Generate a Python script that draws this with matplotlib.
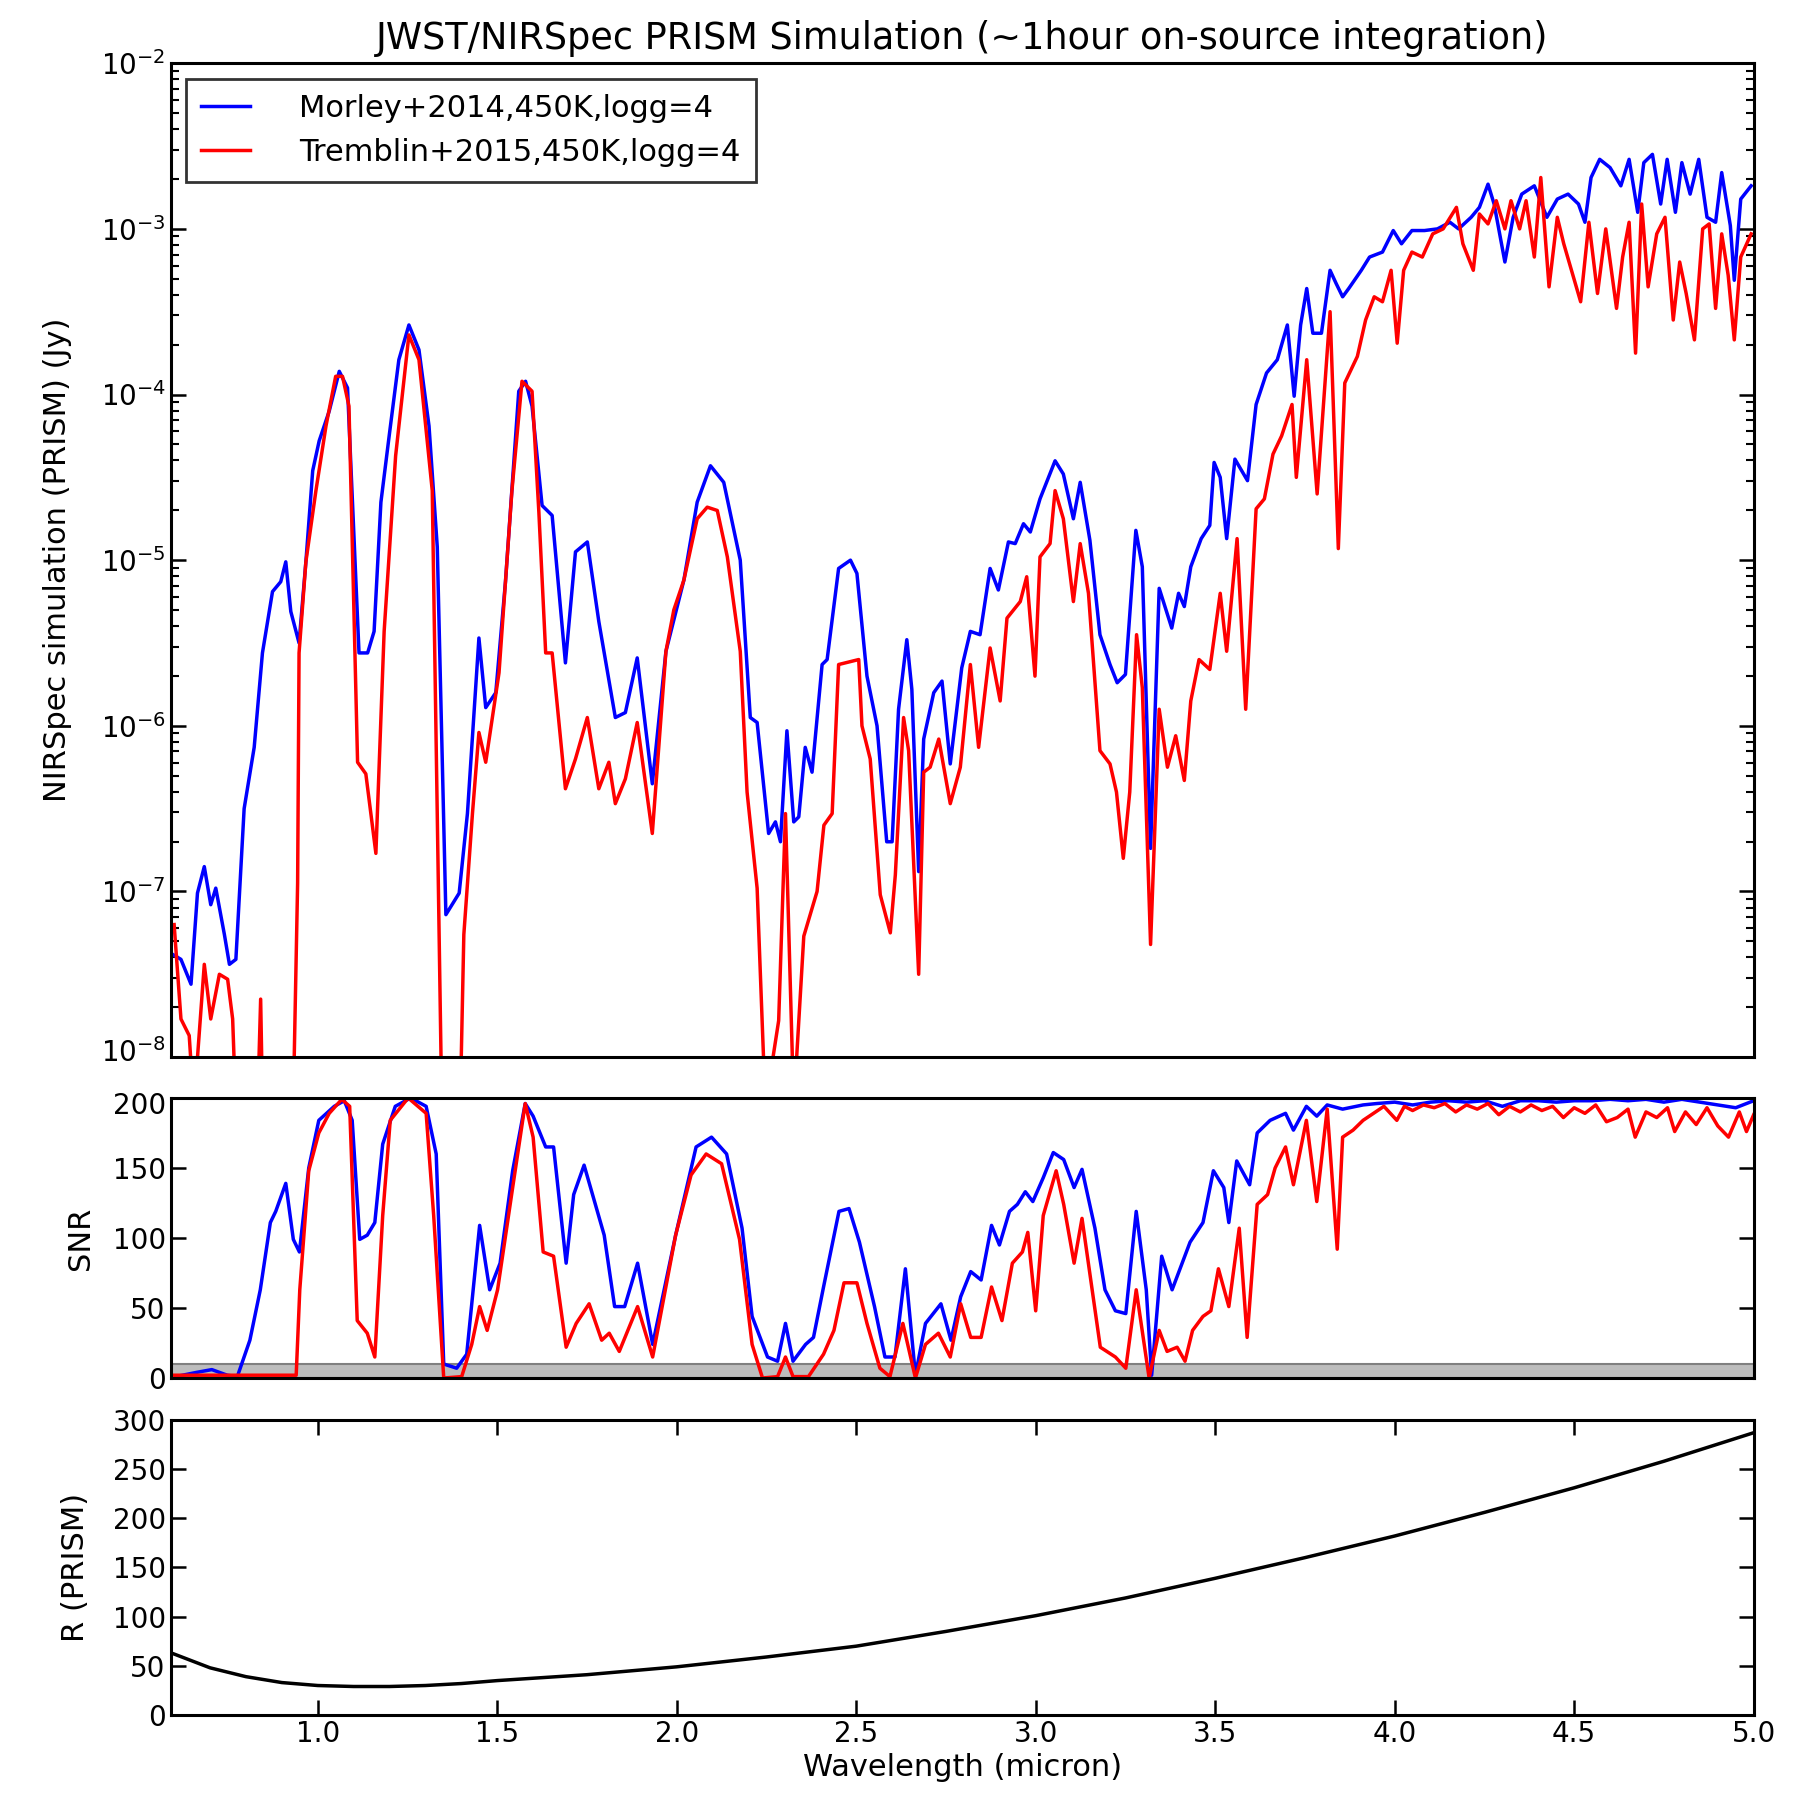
import numpy as np
import matplotlib.pyplot as plt
from matplotlib.transforms import ScaledTranslation

# Morley+2014, 450K, logg=4 : log10 of flux (Jy)
morley_wave = [0.596, 0.619, 0.647, 0.665, 0.684, 0.702, 0.716, 0.740, 0.754, 0.772,
               0.795, 0.823, 0.846, 0.874, 0.897, 0.911, 0.925, 0.948, 0.967, 0.986,
               1.004, 1.032, 1.060, 1.083, 1.115, 1.139, 1.157, 1.176, 1.199, 1.226,
               1.254, 1.282, 1.310, 1.333, 1.357, 1.394, 1.417, 1.449, 1.468, 1.496,
               1.523, 1.560, 1.579, 1.597, 1.625, 1.653, 1.690, 1.718, 1.751, 1.783,
               1.829, 1.857, 1.890, 1.932, 1.970, 2.020, 2.057, 2.094, 2.131, 2.177,
               2.205, 2.224, 2.256, 2.275, 2.289, 2.307, 2.326, 2.340, 2.358, 2.377,
               2.405, 2.419, 2.451, 2.484, 2.502, 2.530, 2.558, 2.585, 2.600, 2.618,
               2.641, 2.655, 2.674, 2.688, 2.716, 2.739, 2.762, 2.794, 2.818, 2.845,
               2.873, 2.896, 2.924, 2.943, 2.966, 2.985, 3.012, 3.054, 3.077, 3.105,
               3.124, 3.151, 3.179, 3.207, 3.227, 3.250, 3.279, 3.297, 3.320, 3.344,
               3.379, 3.398, 3.414, 3.432, 3.461, 3.485, 3.497, 3.514, 3.532, 3.555,
               3.590, 3.614, 3.643, 3.673, 3.701, 3.720, 3.738, 3.755, 3.772, 3.796,
               3.820, 3.837, 3.855, 3.872, 3.907, 3.930, 3.966, 3.996, 4.019, 4.048,
               4.083, 4.119, 4.154, 4.178, 4.213, 4.236, 4.260, 4.277, 4.307, 4.330,
               4.354, 4.389, 4.424, 4.453, 4.483, 4.512, 4.530, 4.547, 4.571, 4.600,
               4.630, 4.653, 4.677, 4.694, 4.718, 4.741, 4.759, 4.782, 4.800, 4.823,
               4.847, 4.870, 4.894, 4.911, 4.935, 4.946, 4.964, 4.993]
morley_logflux = [-7.38, -7.41, -7.56, -7.01, -6.85, -7.08, -6.98, -7.26, -7.44, -7.41,
                  -6.50, -6.13, -5.56, -5.19, -5.13, -5.01, -5.31, -5.50, -5.01, -4.46,
                  -4.28, -4.10, -3.86, -3.96, -5.56, -5.56, -5.43, -4.65, -4.25, -3.79,
                  -3.58, -3.73, -4.19, -4.92, -7.14, -7.01, -6.53, -5.47, -5.89, -5.80,
                  -5.13, -3.98, -3.92, -4.07, -4.67, -4.73, -5.62, -4.95, -4.89, -5.37,
                  -5.95, -5.92, -5.59, -6.35, -5.55, -5.12, -4.65, -4.43, -4.53, -5.00,
                  -5.95, -5.98, -6.65, -6.58, -6.70, -6.03, -6.58, -6.55, -6.13, -6.28,
                  -5.63, -5.60, -5.05, -5.00, -5.08, -5.70, -6.00, -6.70, -6.70, -5.90,
                  -5.48, -5.78, -6.88, -6.08, -5.80, -5.73, -6.23, -5.65, -5.43, -5.45,
                  -5.05, -5.18, -4.89, -4.90, -4.78, -4.83, -4.63, -4.40, -4.48, -4.75,
                  -4.53, -4.88, -5.45, -5.63, -5.74, -5.69, -4.82, -5.04, -6.74, -5.17,
                  -5.41, -5.20, -5.28, -5.04, -4.87, -4.79, -4.41, -4.50, -4.87, -4.39,
                  -4.52, -4.06, -3.87, -3.79, -3.58, -4.01, -3.58, -3.36, -3.63, -3.63,
                  -3.25, -3.33, -3.41, -3.36, -3.25, -3.17, -3.14, -3.01, -3.09, -3.01,
                  -3.01, -3.00, -2.96, -3.00, -2.93, -2.87, -2.73, -2.85, -3.20, -2.93,
                  -2.79, -2.74, -2.93, -2.82, -2.79, -2.85, -2.96, -2.69, -2.58, -2.63,
                  -2.74, -2.58, -2.90, -2.60, -2.55, -2.85, -2.58, -2.90, -2.60, -2.79,
                  -2.58, -2.93, -2.96, -2.66, -2.98, -3.31, -2.82, -2.74]

# Tremblin+2015, 450K, logg=4 : log10 of flux (Jy)
tremblin_wave = [0.600, 0.619, 0.642, 0.655, 0.684, 0.702, 0.726, 0.749, 0.763, 0.775,
                 0.830, 0.841, 0.848, 0.930, 0.944, 0.948, 0.967, 0.995, 1.023, 1.050,
                 1.069, 1.087, 1.111, 1.134, 1.162, 1.185, 1.217, 1.254, 1.282, 1.319,
                 1.347, 1.395, 1.407, 1.431, 1.449, 1.468, 1.505, 1.541, 1.569, 1.597,
                 1.616, 1.635, 1.653, 1.690, 1.718, 1.751, 1.783, 1.811, 1.829, 1.857,
                 1.890, 1.932, 1.970, 1.992, 2.020, 2.057, 2.085, 2.113, 2.141, 2.177,
                 2.196, 2.224, 2.247, 2.284, 2.303, 2.326, 2.354, 2.391, 2.410, 2.433,
                 2.451, 2.507, 2.516, 2.539, 2.567, 2.595, 2.609, 2.632, 2.646, 2.674,
                 2.688, 2.706, 2.730, 2.762, 2.790, 2.818, 2.841, 2.873, 2.901, 2.920,
                 2.957, 2.975, 2.998, 3.012, 3.040, 3.054, 3.077, 3.105, 3.124, 3.147,
                 3.179, 3.207, 3.225, 3.244, 3.262, 3.281, 3.297, 3.320, 3.344, 3.367,
                 3.390, 3.414, 3.432, 3.455, 3.485, 3.514, 3.532, 3.561, 3.585, 3.614,
                 3.637, 3.661, 3.685, 3.714, 3.726, 3.755, 3.784, 3.820, 3.843, 3.861,
                 3.896, 3.919, 3.943, 3.966, 3.990, 4.007, 4.025, 4.048, 4.077, 4.106,
                 4.135, 4.172, 4.190, 4.219, 4.236, 4.260, 4.283, 4.307, 4.324, 4.348,
                 4.366, 4.389, 4.407, 4.430, 4.453, 4.471, 4.518, 4.541, 4.565, 4.588,
                 4.618, 4.635, 4.653, 4.671, 4.688, 4.706, 4.730, 4.753, 4.776, 4.794,
                 4.812, 4.835, 4.858, 4.876, 4.894, 4.911, 4.929, 4.946, 4.964, 4.993]
tremblin_logflux = [-7.20, -7.77, -7.87, -8.30, -7.44, -7.77, -7.50, -7.53, -7.77, -8.50,
                    -8.50, -7.65, -8.50, -8.50, -6.95, -5.56, -5.01, -4.58, -4.19, -3.89,
                    -3.89, -4.07, -6.22, -6.29, -6.77, -5.43, -4.37, -3.64, -3.79, -4.58,
                    -8.50, -8.50, -7.26, -6.53, -6.04, -6.22, -5.68, -4.58, -3.92, -3.98,
                    -4.71, -5.56, -5.56, -6.38, -6.20, -5.95, -6.38, -6.22, -6.47, -6.32,
                    -5.98, -6.65, -5.55, -5.30, -5.12, -4.75, -4.68, -4.70, -4.98, -5.55,
                    -6.40, -6.98, -8.30, -7.78, -6.53, -8.30, -7.27, -7.00, -6.60, -6.53,
                    -5.63, -5.60, -6.00, -6.20, -7.02, -7.25, -6.90, -5.95, -6.15, -7.50,
                    -6.28, -6.25, -6.08, -6.47, -6.25, -5.63, -6.13, -5.53, -5.85, -5.35,
                    -5.25, -5.10, -5.70, -4.98, -4.90, -4.58, -4.75, -5.25, -4.90, -5.20,
                    -6.15, -6.23, -6.40, -6.80, -6.40, -5.45, -5.77, -7.32, -5.90, -6.25,
                    -6.06, -6.33, -5.85, -5.60, -5.66, -5.20, -5.55, -4.87, -5.90, -4.69,
                    -4.63, -4.36, -4.25, -4.06, -4.50, -3.79, -4.60, -3.50, -4.93, -3.93,
                    -3.77, -3.55, -3.41, -3.44, -3.25, -3.69, -3.25, -3.14, -3.17, -3.03,
                    -3.00, -2.87, -3.09, -3.25, -2.91, -2.97, -2.83, -3.00, -2.83, -3.00,
                    -2.83, -3.17, -2.69, -3.35, -2.93, -3.09, -3.44, -2.96, -3.39, -3.00,
                    -3.48, -3.17, -2.96, -3.75, -2.85, -3.35, -3.03, -2.93, -3.55, -3.20,
                    -3.39, -3.67, -3.00, -2.97, -3.48, -3.03, -3.28, -3.67, -3.17, -3.03]

# signal to noise ratio, blue curve
morley_snr_wave = [0.604, 0.662, 0.705, 0.748, 0.776, 0.811, 0.840, 0.868, 0.883, 0.911,
                   0.932, 0.949, 0.975, 1.003, 1.046, 1.074, 1.096, 1.117, 1.138, 1.159,
                   1.181, 1.216, 1.259, 1.302, 1.330, 1.351, 1.387, 1.415, 1.451, 1.479,
                   1.508, 1.543, 1.578, 1.600, 1.635, 1.657, 1.692, 1.713, 1.742, 1.798,
                   1.827, 1.855, 1.891, 1.933, 1.997, 2.054, 2.097, 2.139, 2.182, 2.210,
                   2.253, 2.281, 2.303, 2.324, 2.359, 2.381, 2.409, 2.452, 2.480, 2.509,
                   2.551, 2.580, 2.608, 2.637, 2.665, 2.693, 2.736, 2.764, 2.791, 2.819,
                   2.848, 2.877, 2.899, 2.927, 2.949, 2.971, 2.992, 3.021, 3.049, 3.078,
                   3.107, 3.129, 3.165, 3.193, 3.222, 3.251, 3.280, 3.308, 3.323, 3.351,
                   3.380, 3.402, 3.430, 3.466, 3.495, 3.524, 3.538, 3.560, 3.596, 3.617,
                   3.653, 3.696, 3.718, 3.754, 3.783, 3.812, 3.855, 3.912, 3.950, 4.000,
                   4.050, 4.100, 4.150, 4.200, 4.250, 4.300, 4.350, 4.400, 4.450, 4.500,
                   4.550, 4.600, 4.650, 4.700, 4.750, 4.800, 4.850, 4.900, 4.950, 5.000]
morley_snr = [1, 4, 6, 2, 1, 27, 63, 111, 119, 139,
              99, 90, 150, 184, 194, 198, 184, 99, 102, 111,
              167, 194, 200, 194, 160, 10, 7, 17, 109, 63,
              82, 148, 196, 187, 165, 165, 82, 131, 152, 102,
              51, 51, 82, 24, 102, 165, 172, 160, 107, 44,
              15, 12, 39, 12, 24, 29, 65, 119, 121, 97,
              51, 15, 15, 78, 2, 39, 53, 27, 58, 76,
              70, 109, 95, 119, 124, 133, 126, 143, 161, 156,
              136, 149, 107, 63, 48, 46, 119, 63, 2, 87,
              63, 78, 97, 111, 148, 136, 111, 155, 138, 175,
              184, 189, 177, 194, 187, 195, 192, 195, 196, 197,
              195, 197, 198, 197, 198, 194, 198, 198, 197, 198,
              198, 199, 198, 199, 197, 199, 197, 195, 193, 198]

# signal to noise ratio, red curve
tremblin_snr_wave = [0.600, 0.700, 0.800, 0.900, 0.940, 0.950, 0.975, 1.003, 1.032, 1.067,
                     1.089, 1.110, 1.138, 1.159, 1.181, 1.202, 1.252, 1.302, 1.323, 1.351,
                     1.401, 1.429, 1.451, 1.472, 1.501, 1.543, 1.578, 1.600, 1.628, 1.657,
                     1.692, 1.720, 1.756, 1.791, 1.812, 1.840, 1.891, 1.933, 1.997, 2.040,
                     2.082, 2.125, 2.175, 2.210, 2.239, 2.281, 2.303, 2.324, 2.367, 2.409,
                     2.438, 2.466, 2.502, 2.530, 2.566, 2.594, 2.630, 2.665, 2.693, 2.729,
                     2.762, 2.791, 2.819, 2.848, 2.877, 2.906, 2.935, 2.963, 2.978, 3.000,
                     3.021, 3.057, 3.078, 3.107, 3.129, 3.180, 3.222, 3.251, 3.280, 3.316,
                     3.344, 3.366, 3.394, 3.416, 3.437, 3.466, 3.488, 3.509, 3.538, 3.567,
                     3.589, 3.617, 3.646, 3.667, 3.696, 3.718, 3.754, 3.783, 3.812, 3.840,
                     3.855, 3.884, 3.912, 3.941, 3.970, 4.006, 4.027, 4.050, 4.080, 4.110,
                     4.140, 4.170, 4.200, 4.230, 4.260, 4.290, 4.320, 4.350, 4.380, 4.410,
                     4.440, 4.470, 4.500, 4.530, 4.560, 4.590, 4.620, 4.650, 4.670, 4.700,
                     4.730, 4.760, 4.780, 4.810, 4.840, 4.870, 4.900, 4.930, 4.960, 4.980,
                     5.000]
tremblin_snr = [2, 2, 2, 2, 2, 63, 148, 175, 189, 199,
                194, 41, 32, 15, 116, 184, 200, 189, 116, 0,
                1, 24, 51, 34, 63, 136, 196, 172, 90, 87,
                22, 39, 53, 27, 32, 19, 51, 15, 102, 145,
                160, 153, 99, 24, 0, 1, 15, 1, 1, 17,
                34, 68, 68, 39, 7, 1, 39, 0, 24, 32,
                15, 53, 29, 29, 65, 41, 82, 90, 104, 48,
                116, 148, 124, 82, 114, 22, 15, 7, 63, 0,
                34, 19, 22, 12, 34, 44, 48, 78, 51, 107,
                29, 124, 131, 150, 165, 138, 184, 126, 192, 92,
                172, 177, 184, 189, 194, 184, 194, 191, 195, 193,
                196, 190, 195, 192, 196, 188, 194, 190, 195, 191,
                194, 186, 193, 189, 195, 183, 186, 192, 172, 190,
                186, 193, 176, 190, 181, 193, 180, 172, 190, 176,
                188]

# PRISM resolving power
r_wave = [0.60, 0.70, 0.80, 0.90, 1.00, 1.10, 1.20, 1.30, 1.40, 1.50, 1.75, 2.00,
          2.25, 2.50, 2.75, 3.00, 3.25, 3.50, 3.75, 4.00, 4.25, 4.50, 4.75, 5.00]
r_value = [62, 48, 39, 33, 30, 29, 29, 30, 32, 35, 41, 49,
           59, 70, 85, 101, 119, 139, 160, 182, 206, 231, 258, 287]

flux_ticks = [1e-8, 1e-7, 1e-6, 1e-5, 1e-4, 1e-3, 1e-2]
snr_floor = 10

plt.rcParams['font.family'] = 'DejaVu Sans'
plt.rcParams['font.size'] = 22

fig = plt.figure(figsize=(17.99, 18.07), dpi=100)
ax1 = fig.add_axes([0.0948, 0.415, 0.880, 0.550])
ax2 = fig.add_axes([0.0948, 0.2374, 0.880, 0.155])
ax3 = fig.add_axes([0.0948, 0.0509, 0.880, 0.1633])

ax1.plot(morley_wave, 10 ** np.array(morley_logflux), color="blue", lw=2.5,
         label="Morley+2014,450K,logg=4")
ax1.plot(tremblin_wave, 10 ** np.array(tremblin_logflux), color="red", lw=2.5,
         label="Tremblin+2015,450K,logg=4")
ax1.set_yscale("log")
ax1.set_ylim(1e-8, 1e-2)
ax1.set_yticks(flux_ticks)
ax1.set_ylabel("NIRSpec simulation (PRISM) (Jy)")
ax1.yaxis.set_label_coords(-0.062, 0.5)
ax1.set_title("JWST/NIRSpec PRISM Simulation (~1hour on-source integration)", pad=10)
leg = ax1.legend(loc="upper left", fancybox=False, handlelength=1.6, borderpad=0.5,
                 fontsize=22, handletextpad=1.6)
leg.get_frame().set_edgecolor("black")
leg.get_frame().set_linewidth(2.0)

ax2.axhspan(0, snr_floor, facecolor="#bdbdbd", edgecolor="#808080", lw=1.5)
ax2.plot(morley_snr_wave, morley_snr, color="blue", lw=2.5)
ax2.plot(tremblin_snr_wave, tremblin_snr, color="red", lw=2.5)
ax2.set_ylim(0, 200)
ax2.set_yticks([0, 50, 100, 150, 200])
ax2.set_ylabel("SNR")
ax2.yaxis.set_label_coords(-0.048, 0.5)

ax3.plot(r_wave, r_value, color="black", lw=2.5)
ax3.set_ylim(0, 300)
ax3.set_yticks([0, 50, 100, 150, 200, 250, 300])
ax3.set_xticks([1.0, 1.5, 2.0, 2.5, 3.0, 3.5, 4.0, 4.5, 5.0])
ax3.set_ylabel("R (PRISM)")
ax3.yaxis.set_label_coords(-0.051, 0.5)
ax3.set_xlabel("Wavelength (micron)", labelpad=4)

for ax in (ax1, ax2, ax3):
    ax.set_xlim(0.59, 5.0)
    for s in ax.spines.values():
        s.set_linewidth(2.2)
    ax.tick_params(which="major", direction="in", length=11, width=1.8,
                   top=True, right=True, labelsize=20)
    ax.tick_params(which="minor", direction="in", length=6, width=1.5,
                   top=True, right=True)
for ax in (ax1, ax2):
    ax.set_xticks([])

# nudge the 1e-8 and 200 labels apart so they don't collide
fig.canvas.draw()
lab = ax1.yaxis.get_major_ticks()[0].label1
lab.set_transform(lab.get_transform() + ScaledTranslation(0, 5 / 72, fig.dpi_scale_trans))
lab = ax2.yaxis.get_major_ticks()[-1].label1
lab.set_transform(lab.get_transform() + ScaledTranslation(0, -4 / 72, fig.dpi_scale_trans))

fig.savefig("out.png", dpi=100)
